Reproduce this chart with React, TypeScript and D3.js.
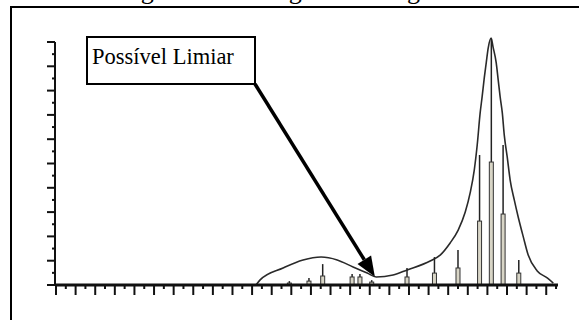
import React from "react";
import * as d3 from "d3";

// Smooth envelope curve (gray level, frequency %)
const curveX = [102, 104.1, 115.8, 126, 135.2, 143.4, 151.5, 158.7, 163.3, 171.9, 179.1, 190.8, 195.9, 201, 205.1, 208.7, 211.2, 213.3, 214.8, 216.3, 217.3, 218.4, 219.4, 220.4, 221.9, 222.9, 224.5, 225.5, 226.5, 227.6, 228.6, 230.1, 231.6, 233.7, 235.7, 238.3, 240.8, 245.4, 250.5, 253.6];
const curveY = [0, 2.1, 7.0, 10.3, 11.5, 10.3, 7.4, 4.9, 3.3, 4.1, 6.2, 9.9, 12.3, 17.3, 22.6, 30, 37.9, 47.3, 57.6, 70.8, 77.4, 85.2, 91.4, 97.5, 101.6, 97.9, 91.4, 84.4, 77.4, 70.8, 61.7, 52.7, 43.2, 35, 28, 19.8, 12.3, 5.8, 2.9, 0.8];

// Histogram bars
const barX = [119, 129, 136, 151, 155, 161, 179, 193, 205, 216, 222, 228, 236];
const barLow = [0.8, 1.6, 3.7, 3.3, 3.3, 1.2, 3.3, 4.9, 7, 26.3, 50.6, 29.2, 4.9];
const barHigh = [1.6, 2.9, 8.6, 4.5, 4.5, 2, 7, 11.5, 14.4, 53.5, 101.2, 57.6, 10.3];

const xMajorTicks = d3.range(0, 251, 10);
const xMinorTicks = d3.range(5, 256, 10);
const yMajorTicks = d3.range(0, 101, 10);
const yMinorTicks = d3.range(5, 100, 10);

const title = "Figura 3 – Histograma da figura 4";
const annotation = "Possível Limiar";

export default function App() {
  const W = 579, H = 320;
  const x = d3.scaleLinear().domain([0, 256]).range([56, 558]);
  const y = d3.scaleLinear().domain([0, 100]).range([285, 42]);
  const line = d3
    .line<number>()
    .x((_, i) => x(curveX[i]))
    .y((d) => y(d))
    .curve(d3.curveMonotoneX);

  const x0 = 55;
  const y0 = y(0);

  // arrow
  const ax1 = 255, ay1 = 84;
  const tipX = x(162.6), tipY = y(3.4);
  const ang = Math.atan2(tipY - ay1, tipX - ax1);
  const headL = 20, headW = 8;
  const bx = tipX - headL * Math.cos(ang), by = tipY - headL * Math.sin(ang);
  const px = -Math.sin(ang), py = Math.cos(ang);

  return (
    <svg
      width={W}
      height={H}
      style={{ position: "absolute", left: 0, top: 0, background: "#fff" }}
    >
      <rect x={0} y={0} width={W} height={H} fill="#fff" />
      <text
        x={119}
        y={-1}
        fontFamily="'Liberation Serif', 'Times New Roman', serif"
        fontSize={26}
        fill="#000"
      >
        {title}
      </text>
      {/* frame */}
      <path d={`M11,${H + 5} L11,7 L${W + 5},7`} fill="none" stroke="#000" strokeWidth={2} />

      {/* curve */}
      <path d={line(curveY) || ""} fill="none" stroke="#2a2a2a" strokeWidth={1.6} />

      {/* bars */}
      {barX.map((v, i) => (
        <g key={i}>
          <line
            x1={x(v)}
            x2={x(v)}
            y1={y0}
            y2={y(barHigh[i])}
            stroke="#222"
            strokeWidth={1.5}
          />
          <rect
            x={x(v) - 2}
            y={y(barLow[i])}
            width={4}
            height={y0 - y(barLow[i])}
            fill="#d8d5c6"
            stroke="#333"
            strokeWidth={1}
          />
        </g>
      ))}

      {/* y axis */}
      <line x1={x0} x2={x0} y1={y(100)} y2={y0} stroke="#111" strokeWidth={2} />
      {yMajorTicks.map((t) => (
        <line key={"ym" + t} x1={x0 - 8} x2={x0} y1={y(t)} y2={y(t)} stroke="#111" strokeWidth={2} />
      ))}
      {yMinorTicks.map((t) => (
        <line key={"yn" + t} x1={x0 - 3} x2={x0} y1={y(t)} y2={y(t)} stroke="#111" strokeWidth={2} />
      ))}

      {/* x axis */}
      <line x1={x0} x2={558} y1={y0} y2={y0} stroke="#111" strokeWidth={3} />
      {xMajorTicks.map((t) => (
        <line key={"xm" + t} x1={x(t)} x2={x(t)} y1={y0} y2={y0 + 10} stroke="#111" strokeWidth={2} />
      ))}
      {xMinorTicks.map((t) => (
        <line key={"xn" + t} x1={x(t)} x2={x(t)} y1={y0} y2={y0 + 4} stroke="#111" strokeWidth={2} />
      ))}

      {/* annotation */}
      <rect x={87} y={37} width={168} height={47} fill="#fff" stroke="#000" strokeWidth={2} />
      <text
        x={92}
        y={64}
        fontFamily="'Liberation Serif', 'Times New Roman', serif"
        fontSize={22.5}
        fill="#000"
      >
        {annotation}
      </text>
      <line x1={ax1} y1={ay1} x2={bx} y2={by} stroke="#000" strokeWidth={3.5} />
      <polygon
        points={`${tipX},${tipY} ${bx + px * headW},${by + py * headW} ${bx - px * headW},${by - py * headW}`}
        fill="#000"
      />
    </svg>
  );
}
